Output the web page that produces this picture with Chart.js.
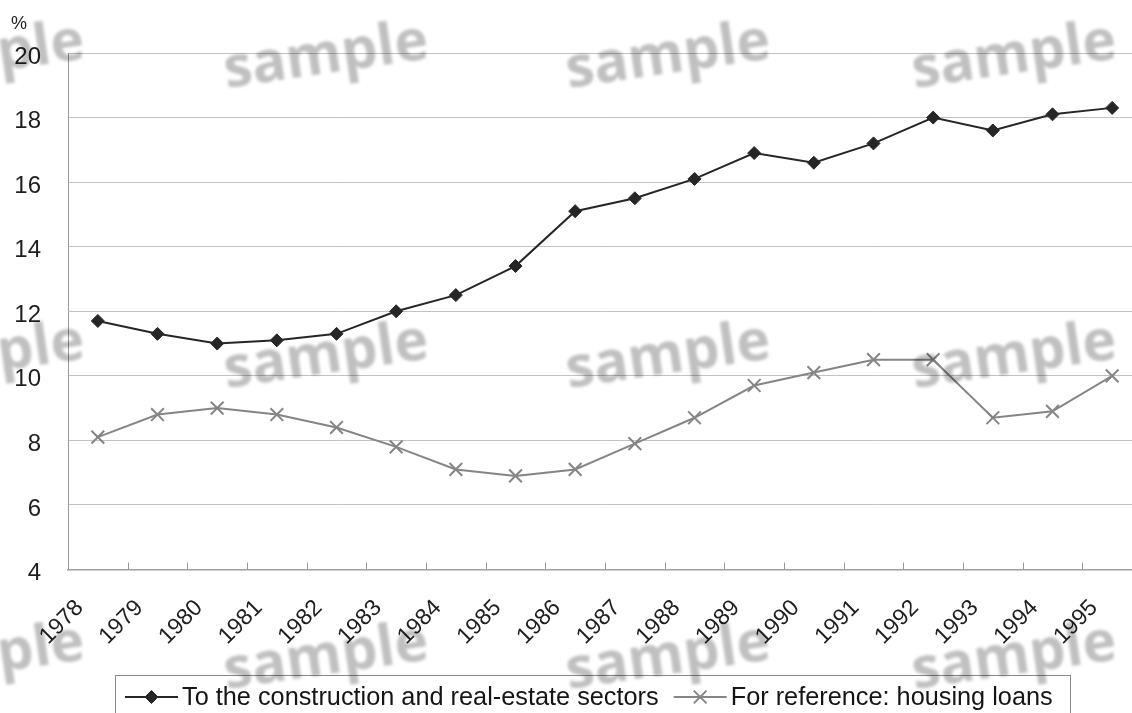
<!DOCTYPE html>
<html>
<head>
<meta charset="utf-8">
<script src="https://cdn.jsdelivr.net/npm/chart.js@4/dist/chart.umd.min.js"></script>
<style>
  html, body { margin: 0; padding: 0; background: #fff; overflow: hidden; }
  #wrap { width: 1132px; height: 713px; overflow: hidden; }
  canvas { display: block; }
</style>
</head>
<body>
<div id="wrap">
  <!-- the plot runs slightly past the right edge of the visible frame -->
  <canvas id="chart" width="1142" height="713"></canvas>
</div>
<script>
// Share of lending, %
const years = ['1978','1979','1980','1981','1982','1983','1984','1985','1986',
               '1987','1988','1989','1990','1991','1992','1993','1994','1995'];
const constructionRealEstate = [11.7, 11.3, 11.0, 11.1, 11.3, 12.0, 12.5, 13.4, 15.1,
                                15.5, 16.1, 16.9, 16.6, 17.2, 18.0, 17.6, 18.1, 18.3];
const housingLoans = [8.1, 8.8, 9.0, 8.8, 8.4, 7.8, 7.1, 6.9, 7.1,
                      7.9, 8.7, 9.7, 10.1, 10.5, 10.5, 8.7, 8.9, 10.0];
const seriesNames = ['To the construction and real-estate sectors',
                     'For reference: housing loans'];
const yTicks = { min: 4, max: 20, step: 2 };
const unitLabel = '%';
const watermarkText = 'sample';

const FONT = '"Liberation Sans", Arial, sans-serif';

// Short inward tick marks on the category axis, at category boundaries
const categoryTicks = {
  id: 'categoryTicks',
  afterDatasetsDraw(chart) {
    const x = chart.scales.x, area = chart.chartArea, ctx = chart.ctx;
    ctx.save();
    ctx.strokeStyle = '#9a9a9a';
    ctx.lineWidth = 1;
    ctx.beginPath();
    for (let i = 1; i < years.length; i++) {
      const px = Math.round((x.getPixelForValue(i - 1) + x.getPixelForValue(i)) / 2) + 0.5;
      ctx.moveTo(px, area.bottom);
      ctx.lineTo(px, area.bottom - 7);
    }
    ctx.stroke();
    ctx.restore();
  }
};

// Unit label above the value axis
const unitText = {
  id: 'unitText',
  afterDraw(chart) {
    const ctx = chart.ctx;
    ctx.save();
    ctx.fillStyle = '#222';
    ctx.font = '18px ' + FONT;
    ctx.textAlign = 'left';
    ctx.textBaseline = 'top';
    ctx.fillText(unitLabel, 11, 15);
    ctx.restore();
  }
};

// Boxed legend with line-and-marker samples
const boxedLegend = {
  id: 'boxedLegend',
  afterDraw(chart) {
    const ctx = chart.ctx;
    const cy = 697;
    ctx.save();
    ctx.strokeStyle = '#8a8a8a';
    ctx.lineWidth = 1;
    ctx.strokeRect(115.5, 675.5, 955, 60);
    ctx.font = '25.3px ' + FONT;
    ctx.textBaseline = 'middle';
    ctx.textAlign = 'left';
    let x = 125;
    chart.data.datasets.forEach((ds) => {
      ctx.strokeStyle = ds.borderColor;
      ctx.lineWidth = ds.borderWidth;
      ctx.beginPath();
      ctx.moveTo(x, cy);
      ctx.lineTo(x + 53, cy);
      ctx.stroke();
      ctx.fillStyle = ds.pointBackgroundColor;
      ctx.strokeStyle = ds.pointBorderColor;
      ctx.lineWidth = ds.pointBorderWidth;
      Chart.helpers.drawPoint(ctx, {
        pointStyle: ds.pointStyle,
        radius: ds.pointRadius,
        rotation: 0,
        borderWidth: ds.pointBorderWidth
      }, x + 26.5, cy);
      ctx.fillStyle = '#151515';
      ctx.fillText(ds.label, x + 57, cy + 1);
      x += 57 + ctx.measureText(ds.label).width + 15;
    });
    ctx.restore();
  }
};

// Tiled watermark text
const watermark = {
  id: 'watermark',
  afterDraw(chart) {
    const ctx = chart.ctx;
    const cols = [-18, 326, 668, 1014];
    const rows = [57, 357, 658];
    ctx.save();
    ctx.globalCompositeOperation = 'multiply';
    ctx.fillStyle = 'rgb(192,192,192)';
    ctx.font = 'bold 57px "Open Sans", sans-serif';
    ctx.textAlign = 'center';
    ctx.textBaseline = 'middle';
    ctx.filter = 'blur(1.5px)';
    rows.forEach((cy) => cols.forEach((cx) => {
      ctx.save();
      ctx.translate(cx, cy);
      ctx.rotate(-8.3 * Math.PI / 180);
      ctx.fillText(watermarkText, 0, 0);
      ctx.restore();
    }));
    ctx.restore();
  }
};

new Chart(document.getElementById('chart'), {
  type: 'line',
  data: {
    labels: years,
    datasets: [
      {
        label: seriesNames[0],
        data: constructionRealEstate,
        borderColor: '#262626',
        borderWidth: 2,
        pointStyle: 'rectRot',
        pointRadius: 6.5,
        pointHoverRadius: 6.5,
        pointBackgroundColor: '#262626',
        pointBorderColor: '#262626',
        pointBorderWidth: 1,
        tension: 0
      },
      {
        label: seriesNames[1],
        data: housingLoans,
        borderColor: '#858585',
        borderWidth: 2,
        pointStyle: 'crossRot',
        pointRadius: 9,
        pointHoverRadius: 9,
        pointBackgroundColor: '#858585',
        pointBorderColor: '#858585',
        pointBorderWidth: 2,
        tension: 0
      }
    ]
  },
  options: {
    responsive: false,
    animation: false,
    devicePixelRatio: 1,
    layout: { autoPadding: false, padding: { top: 53, right: 0, left: 0, bottom: 0 } },
    plugins: {
      legend: { display: false },
      tooltip: { enabled: false }
    },
    scales: {
      x: {
        offset: true,
        grid: { display: false, drawTicks: false },
        border: { display: true, color: '#a0a0a0', width: 1.5 },
        ticks: {
          color: '#1e1e1e',
          font: { family: FONT, size: 23 },
          minRotation: 45,
          maxRotation: 45,
          autoSkip: false,
          padding: 25,
          labelOffset: -18
        },
        afterFit(scale) {
          scale.height = 143.5;
          scale.paddingLeft = 0;
          scale.paddingRight = 0;
        }
      },
      y: {
        min: yTicks.min,
        max: yTicks.max,
        grid: { color: '#c2c2c2', lineWidth: 1, drawTicks: false },
        border: { display: true, color: '#9a9a9a', width: 1 },
        ticks: {
          stepSize: yTicks.step,
          color: '#1e1e1e',
          font: { family: FONT, size: 24 },
          padding: 27,
          labelOffset: 4
        },
        afterFit(scale) {
          scale.width = 68;
          scale.paddingTop = 0;
          scale.paddingBottom = 0;
        }
      }
    }
  },
  plugins: [categoryTicks, unitText, boxedLegend, watermark]
});
</script>
</body>
</html>
